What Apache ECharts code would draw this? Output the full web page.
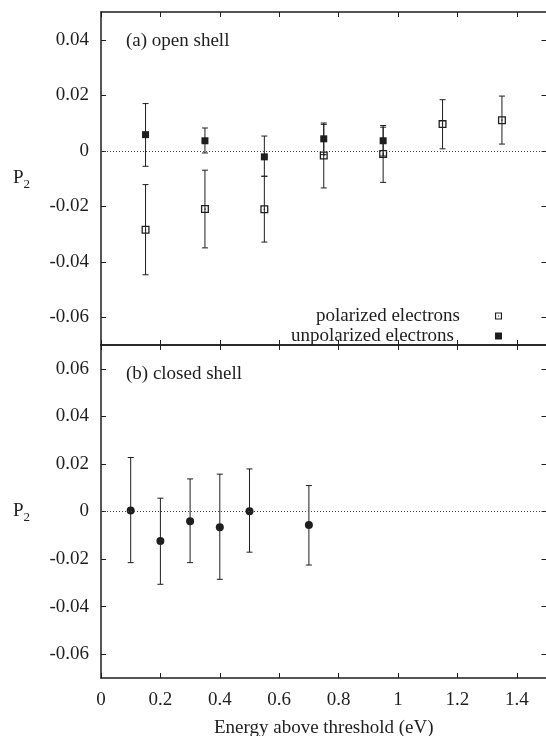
<!DOCTYPE html>
<html>
<head>
<meta charset="utf-8">
<script src="https://cdn.jsdelivr.net/npm/echarts@6/dist/echarts.min.js"></script>
<style>
  html, body { margin: 0; padding: 0; background: #fff; }
  #main { width: 546px; height: 736px; }
</style>
</head>
<body>
<div id="main"></div>
<script>
// (a) open shell
var openX = [0.15, 0.35, 0.55, 0.75, 0.95, 1.15, 1.35];
var polY = [-0.0285, -0.0210, -0.0211, -0.0017, -0.0012, 0.0096, 0.0110];
var polLow = [-0.0447, -0.0350, -0.0329, -0.0134, -0.0114, 0.0007, 0.0024];
var polHigh = [-0.0122, -0.0070, -0.0092, 0.0095, 0.0085, 0.0184, 0.0197];

var unpolX = [0.15, 0.35, 0.55, 0.75, 0.95];
var unpolY = [0.0058, 0.0036, -0.0022, 0.0043, 0.0036];
var unpolLow = [-0.0056, -0.0008, -0.0092, -0.0014, -0.0019];
var unpolHigh = [0.0170, 0.0082, 0.0053, 0.0100, 0.0091];

// (b) closed shell
var closedX = [0.1, 0.2, 0.3, 0.4, 0.5, 0.7];
var closedY = [0.0004, -0.0124, -0.0041, -0.0066, 0.0001, -0.0057];
var closedLow = [-0.0215, -0.0306, -0.0215, -0.0285, -0.0171, -0.0225];
var closedHigh = [0.0227, 0.0056, 0.0137, 0.0157, 0.0179, 0.0109];

var xTicks = [0, 0.2, 0.4, 0.6, 0.8, 1, 1.2, 1.4];
var yTicksTop = [-0.06, -0.04, -0.02, 0, 0.02, 0.04];
var yTicksBottom = [-0.06, -0.04, -0.02, 0, 0.02, 0.04, 0.06];

var ink = '#1e1e1e';
var font = 'Liberation Serif';

function pts(xs, ys) {
    return xs.map(function (x, i) { return [x, ys[i]]; });
}
function bars(xs, lo, hi) {
    return xs.map(function (x, i) { return [x, lo[i], hi[i]]; });
}

function errorBar(params, api) {
    var x = api.value(0);
    var a = api.coord([x, api.value(1)]);
    var b = api.coord([x, api.value(2)]);
    var w = 3;
    var st = { stroke: ink, lineWidth: 1 };
    return {
        type: 'group',
        children: [
            { type: 'line', shape: { x1: a[0], y1: a[1], x2: b[0], y2: b[1] }, style: st },
            { type: 'line', shape: { x1: a[0] - w, y1: a[1], x2: a[0] + w, y2: a[1] }, style: st },
            { type: 'line', shape: { x1: b[0] - w, y1: b[1], x2: b[0] + w, y2: b[1] }, style: st }
        ]
    };
}

function xAxis(grid, pos, labels, name) {
    return {
        type: 'value', gridIndex: grid, position: pos,
        min: 0, max: 1.5,
        name: name || '', nameLocation: 'middle', nameGap: 41,
        nameTextStyle: { fontFamily: font, fontSize: 19, color: ink },
        axisLine: { show: true, onZero: false, lineStyle: { color: ink, width: 1.5 } },
        axisTick: { show: true, inside: true, length: 5, customValues: xTicks, lineStyle: { color: ink, width: 1 } },
        axisLabel: { show: labels, customValues: xTicks, margin: 13, fontFamily: font, fontSize: 19, color: ink },
        splitLine: { show: false }
    };
}

function yAxis(grid, pos, labels, lim, ticks) {
    return {
        type: 'value', gridIndex: grid, position: pos,
        min: -lim[0], max: lim[1],
        name: labels ? '{p|P}{s|2}' : '', nameLocation: 'middle', nameRotate: 0, nameGap: 71,
        nameTextStyle: {
            rich: {
                p: { fontFamily: font, fontSize: 19, color: ink },
                s: { fontFamily: font, fontSize: 13, color: ink, padding: [12, 0, 0, 0] }
            }
        },
        axisLine: { show: true, onZero: false, lineStyle: { color: ink, width: 1.5 } },
        axisTick: { show: true, inside: true, length: 5, customValues: ticks, lineStyle: { color: ink, width: 1 } },
        axisLabel: { show: labels, customValues: ticks, margin: 12, fontFamily: font, fontSize: 19, color: ink },
        splitLine: { show: false }
    };
}

var zeroLine = {
    silent: true, symbol: 'none', label: { show: false },
    lineStyle: { type: [1, 2], color: '#444', width: 1 },
    data: [{ yAxis: 0 }]
};

var openSquare = 'path://M0,0H10V10H0Z M1.6,1.6V8.4H8.4V1.6Z M4.2,4.2H5.8V5.8H4.2Z';

var myChart = echarts.init(document.getElementById('main'));
var option = {
    animation: false,
    backgroundColor: '#fff',
    grid: [
        { left: 101, top: 12, width: 445.5, height: 333, containLabel: false, outerBoundsMode: 'none' },
        { left: 101, top: 345, width: 445.5, height: 333, containLabel: false, outerBoundsMode: 'none' }
    ],
    title: [
        { text: '(a) open shell', left: 121, top: 27, textStyle: { fontFamily: font, fontSize: 19, fontWeight: 'normal', color: ink } },
        { text: '(b) closed shell', left: 121, top: 360, textStyle: { fontFamily: font, fontSize: 19, fontWeight: 'normal', color: ink } }
    ],
    legend: {
        orient: 'vertical', align: 'right',
        right: 39, top: 301,
        itemWidth: 7, itemHeight: 7, itemGap: 0,
        textStyle: { fontFamily: font, fontSize: 19, color: ink, lineHeight: 20, padding: [0, 30, 0, 0] },
        data: [
            { name: 'polarized electrons', icon: openSquare },
            { name: 'unpolarized electrons', icon: 'rect', textStyle: { padding: [0, 36, 0, 0] } }
        ]
    },
    xAxis: [
        xAxis(0, 'bottom', false),
        xAxis(0, 'top', false),
        xAxis(1, 'bottom', true, 'Energy above threshold (eV)'),
        xAxis(1, 'top', false)
    ],
    yAxis: [
        yAxis(0, 'left', true, [0.07, 0.05], yTicksTop),
        yAxis(0, 'right', false, [0.07, 0.05], yTicksTop),
        yAxis(1, 'left', true, [0.07, 0.07], yTicksBottom),
        yAxis(1, 'right', false, [0.07, 0.07], yTicksBottom)
    ],
    series: [
        {
            type: 'custom', xAxisIndex: 0, yAxisIndex: 0, silent: true,
            renderItem: errorBar, data: bars(openX, polLow, polHigh), z: 2
        },
        {
            type: 'custom', xAxisIndex: 0, yAxisIndex: 0, silent: true,
            renderItem: errorBar, data: bars(unpolX, unpolLow, unpolHigh), z: 2
        },
        {
            name: 'polarized electrons', type: 'scatter', xAxisIndex: 0, yAxisIndex: 0,
            symbol: openSquare, symbolSize: 8, itemStyle: { color: ink, opacity: 1 },
            data: pts(openX, polY), z: 3, markLine: zeroLine
        },
        {
            name: 'unpolarized electrons', type: 'scatter', xAxisIndex: 0, yAxisIndex: 0,
            symbol: 'rect', symbolSize: 7, itemStyle: { color: ink, opacity: 1 },
            data: pts(unpolX, unpolY), z: 4
        },
        {
            type: 'custom', xAxisIndex: 2, yAxisIndex: 2, silent: true,
            renderItem: errorBar, data: bars(closedX, closedLow, closedHigh), z: 2
        },
        {
            name: 'closed shell', type: 'scatter', xAxisIndex: 2, yAxisIndex: 2,
            symbol: 'circle', symbolSize: 8, itemStyle: { color: ink, opacity: 1 },
            data: pts(closedX, closedY), z: 3, markLine: zeroLine
        }
    ]
};
myChart.setOption(option);
window.addEventListener('resize', function () {
    myChart.resize();
});
</script>
</body>
</html>
